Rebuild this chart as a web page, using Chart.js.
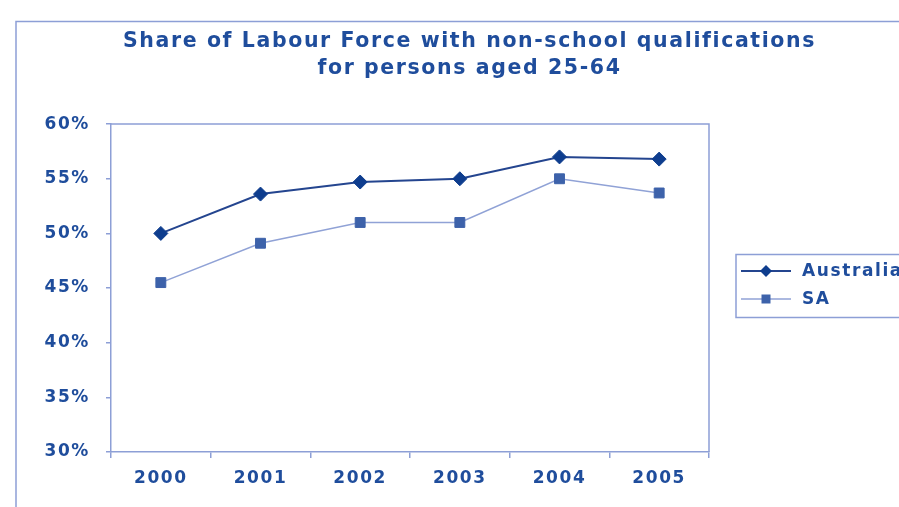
<!DOCTYPE html>
<html>
<head>
<meta charset="utf-8">
<script src="https://cdn.jsdelivr.net/npm/chart.js@4/dist/chart.umd.min.js"></script>
<style>
  html, body { margin: 0; padding: 0; background: #ffffff; overflow: hidden; }
  #wrap { width: 899px; height: 507px; position: relative; }
</style>
</head>
<body>
<div id="wrap"><canvas id="c" width="899" height="507"></canvas></div>
<script>
// ---- data ----
const titleLines = ["Share of Labour Force with non-school qualifications", "for persons aged 25-64"];
const years = ["2000", "2001", "2002", "2003", "2004", "2005"];
const australia = [50.0, 53.6, 54.7, 55.0, 57.0, 56.8];
const sa = [45.5, 49.1, 51.0, 51.0, 55.0, 53.7];
const seriesNames = ["Australia", "SA"];
const yMin = 30, yMax = 60, yStep = 5;

const TEXT = "#1f4d9c";
const AXIS = "#8d9fd6";
const FONT = "'DejaVu Sans', 'Liberation Sans', sans-serif";
const SPACING = "1.6px";

const framePlugin = {
  id: "frame",
  beforeUpdate(chart) { chart.ctx.letterSpacing = SPACING; },
  beforeDraw(chart) {
    const ctx = chart.ctx;
    ctx.letterSpacing = SPACING;
    ctx.save();
    ctx.strokeStyle = AXIS;
    ctx.lineWidth = 1.5;
    ctx.strokeRect(16, 21.5, 1000, 1000);
    ctx.restore();
  },
  beforeDatasetsDraw(chart) {
    const a = chart.chartArea, ctx = chart.ctx;
    ctx.save();
    ctx.strokeStyle = AXIS;
    ctx.lineWidth = 1.5;
    ctx.beginPath();
    ctx.moveTo(a.left, a.top);
    ctx.lineTo(a.right, a.top);
    ctx.lineTo(a.right, a.bottom);
    ctx.stroke();
    ctx.restore();
  },
  afterDraw(chart) {
    const ctx = chart.ctx;
    ctx.save();
    ctx.letterSpacing = SPACING;
    const bx = 736, by = 254.5, bw = 300, bh = 63;
    ctx.strokeStyle = AXIS;
    ctx.lineWidth = 1.5;
    ctx.strokeRect(bx, by, bw, bh);
    const rows = [271, 299];
    chart.data.datasets.forEach((ds, i) => {
      const y = rows[i];
      ctx.strokeStyle = ds.borderColor;
      ctx.lineWidth = ds.borderWidth;
      ctx.beginPath();
      ctx.moveTo(741, y);
      ctx.lineTo(791, y);
      ctx.stroke();
      ctx.fillStyle = ds.pointBackgroundColor;
      ctx.beginPath();
      if (ds.pointStyle === "rectRot") {
        const r = 6;
        ctx.moveTo(766, y - r); ctx.lineTo(766 + r, y); ctx.lineTo(766, y + r); ctx.lineTo(766 - r, y);
      } else {
        const s = 4.5;
        ctx.rect(766 - s, y - s, 2 * s, 2 * s);
      }
      ctx.closePath();
      ctx.fill();
      ctx.fillStyle = TEXT;
      ctx.font = "bold 17px " + FONT;
      ctx.textBaseline = "middle";
      ctx.textAlign = "left";
      ctx.fillText(ds.label, 802, y + 1);
    });
    ctx.restore();
  }
};

new Chart(document.getElementById("c"), {
  type: "line",
  data: {
    labels: years,
    datasets: [
      {
        label: seriesNames[0],
        data: australia,
        borderColor: "#24458f",
        borderWidth: 2,
        pointStyle: "rectRot",
        pointRadius: 7,
        pointBackgroundColor: "#0e3d8e",
        pointBorderColor: "#0e3d8e",
        pointBorderWidth: 1,
        tension: 0
      },
      {
        label: seriesNames[1],
        data: sa,
        borderColor: "#90a2d6",
        borderWidth: 1.5,
        pointStyle: "rect",
        pointRadius: 7,
        pointBackgroundColor: "#3d62aa",
        pointBorderColor: "#3d62aa",
        pointBorderWidth: 1,
        tension: 0
      }
    ]
  },
  options: {
    responsive: false,
    animation: false,
    devicePixelRatio: 1,
    layout: { padding: { left: 40, right: 0, top: 0, bottom: 0 } },
    plugins: {
      legend: { display: false },
      tooltip: { enabled: false },
      title: {
        display: true,
        text: titleLines,
        color: TEXT,
        font: { family: FONT, size: 20.5, weight: "bold", lineHeight: 1.32 },
        padding: { top: 28.5, bottom: 41.5 }
      }
    },
    scales: {
      x: {
        offset: true,
        grid: { display: true, drawOnChartArea: false, drawTicks: true, tickLength: 6, color: AXIS, lineWidth: 1.5, offset: true },
        border: { display: true, color: AXIS, width: 1.5 },
        ticks: { color: TEXT, font: { family: FONT, size: 17, weight: "bold" }, padding: 10, maxRotation: 0 },
        afterFit(scale) { scale.height = 55; }
      },
      y: {
        min: yMin, max: yMax,
        grid: { display: true, drawOnChartArea: false, drawTicks: true, tickLength: 5, color: AXIS, lineWidth: 1.5 },
        border: { display: true, color: AXIS, width: 1.5 },
        ticks: { stepSize: yStep, color: TEXT, font: { family: FONT, size: 17, weight: "bold" }, padding: 16,
                 callback: v => v + "%" },
        afterFit(scale) { scale.width = 71; }
      },
      spacer: {
        type: "linear",
        position: "right",
        display: true,
        grid: { display: false, drawTicks: false },
        border: { display: false },
        ticks: { display: false },
        afterFit(scale) { scale.width = 190; }
      }
    }
  },
  plugins: [framePlugin]
});
</script>
</body>
</html>
